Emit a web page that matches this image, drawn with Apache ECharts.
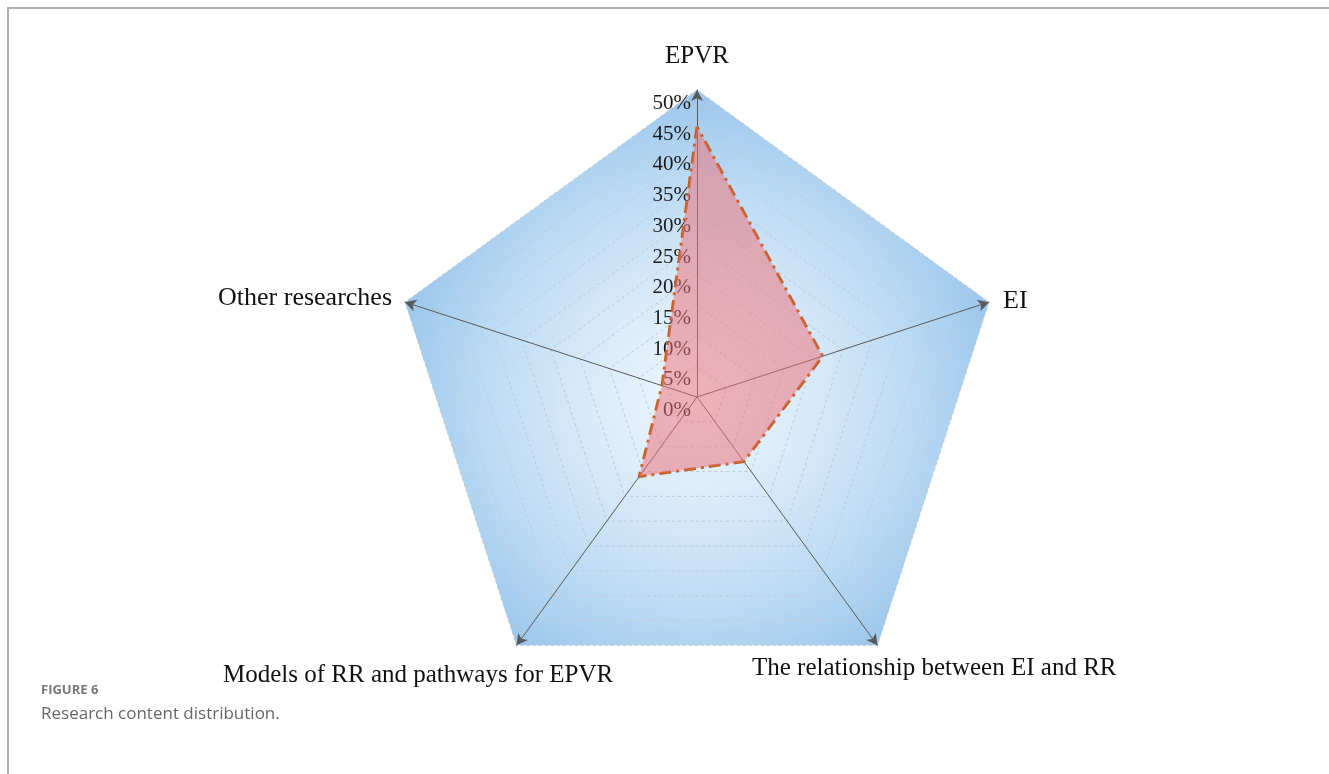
<!DOCTYPE html>
<html>
<head>
<meta charset="utf-8">
<script src="https://cdn.jsdelivr.net/npm/echarts@6/dist/echarts.min.js"></script>
<style>
html,body{margin:0;padding:0;background:#fff;}
#chart{position:absolute;left:0;top:0;width:1329px;height:774px;}
#frame{position:absolute;left:7px;top:7px;right:0;bottom:0;border-left:2px solid #b0b0b0;border-top:2px solid #b0b0b0;pointer-events:none;}
</style>
</head>
<body>
<div id="chart"></div>
<div id="frame"></div>
<script>
// Indicators in ECharts radar order (top, then counter-clockwise)
const categories = ['EPVR', 'Other researches', 'Models of RR and pathways for EPVR', 'The relationship between EI and RR', 'EI'];
const shares = [44, 6, 16, 13, 21.5];
const tickLabels = ['0%', '5%', '10%', '15%', '20%', '25%', '30%', '35%', '40%', '45%', '50%'];
const axisMax = 50;
const axisStep = 5;

const serif = '"Liberation Serif", "Times New Roman", serif';

const chart = echarts.init(document.getElementById('chart'));
const cx = 697, cy = 397, R = 307;

const bgGradient = new echarts.graphic.RadialGradient(cx, cy, R, [
  { offset: 0, color: '#eef7fe' },
  { offset: 0.4, color: '#d6e9f9' },
  { offset: 0.7, color: '#bcdaf3' },
  { offset: 0.9, color: '#a6cdee' },
  { offset: 1, color: '#9bc6eb' }
], true);

const option = {
  animation: false,
  radar: {
    center: [cx, cy],
    radius: R,
    startAngle: 90,
    splitNumber: axisMax / axisStep,
    shape: 'polygon',
    indicator: categories.map(n => ({ name: n, min: 0, max: axisMax })),
    axisName: { show: false },
    axisLine: {
      show: true,
      symbol: ['none', 'arrow'],
      symbolSize: [9, 11],
      lineStyle: { color: '#5a5a5a', width: 1 }
    },
    splitLine: { show: true, lineStyle: { color: '#c2cad3', width: 1, type: [3, 3] } },
    splitArea: { show: true, areaStyle: { color: [bgGradient] } },
    axisLabel: { show: false },
    axisTick: { show: false }
  },
  grid: { left: cx, top: cy - R, height: R, width: 10, containLabel: false },
  xAxis: { type: 'value', show: false },
  yAxis: {
    type: 'value', min: 0, max: axisMax, interval: axisStep, z: 1,
    axisLine: { show: false }, axisTick: { show: false }, splitLine: { show: false },
    axisLabel: {
      margin: 6,
      fontFamily: serif, fontSize: 21, color: '#1a1a1a',
      verticalAlign: 'top', padding: [3, 0, 0, 0],
      formatter: v => tickLabels[Math.round(v / axisStep)]
    }
  },
  series: [{
    type: 'radar',
    z: 3,
    symbol: 'none',
    data: [{ value: shares, name: 'Research content' }],
    lineStyle: { color: '#c0601f', width: 3, type: [12, 5, 3, 5] },
    areaStyle: { color: 'rgba(238,112,118,0.74)' }
  }],
  graphic: [
    { type: 'text', x: 697, y: 56, style: { text: 'EPVR', font: '25px ' + serif, fill: '#111', align: 'center', verticalAlign: 'middle' } },
    { type: 'text', x: 1003, y: 301, style: { text: 'EI', font: '26px ' + serif, fill: '#111', align: 'left', verticalAlign: 'middle' } },
    { type: 'text', x: 392, y: 298, style: { text: 'Other researches', font: '26px ' + serif, fill: '#111', align: 'right', verticalAlign: 'middle' } },
    { type: 'text', x: 223, y: 675, style: { text: 'Models of RR and pathways for EPVR', font: '25px ' + serif, fill: '#111', align: 'left', verticalAlign: 'middle' } },
    { type: 'text', x: 752, y: 668, style: { text: 'The relationship between EI and RR', font: '25px ' + serif, fill: '#111', align: 'left', verticalAlign: 'middle' } },
    { type: 'text', x: 41, y: 690, style: { text: 'FIGURE 6', font: 'bold 13px "Open Sans", sans-serif', fill: '#777', align: 'left', verticalAlign: 'middle' } },
    { type: 'text', x: 41, y: 714, style: { text: 'Research content distribution.', font: '17px "Open Sans", sans-serif', fill: '#666', align: 'left', verticalAlign: 'middle' } }
  ]
};
chart.setOption(option);
</script>
</body>
</html>
